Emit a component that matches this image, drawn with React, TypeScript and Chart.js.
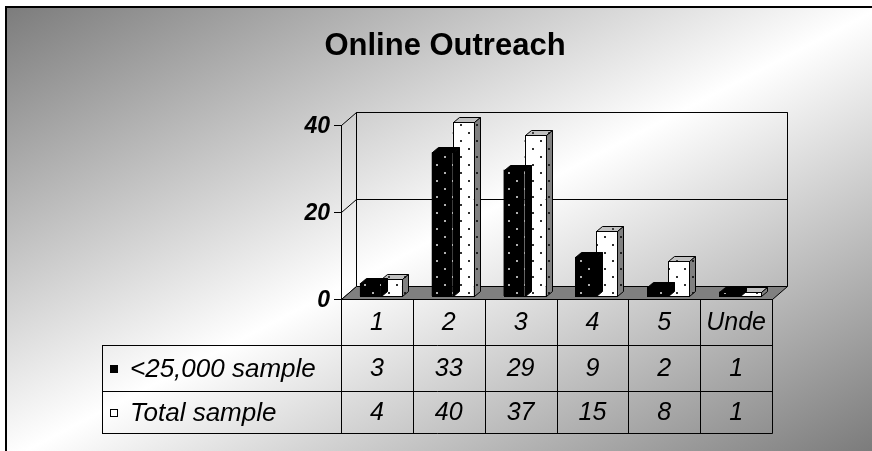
import React, { useEffect, useRef } from "react";
import { Chart, registerables } from "chart.js";

Chart.register(...registerables);

// Survey data
const categories = ["1", "2", "3", "4", "5", "Unde"];
const under25kSample = [3, 33, 29, 9, 2, 1];
const totalSample = [4, 40, 37, 15, 8, 1];
const seriesNames = ["<25,000 sample", "Total sample"];
const yTickValues = [0, 20, 40];
const chartTitle = "Online Outreach";

const FONT = '"Liberation Sans", Arial, sans-serif';
const W = 872;
const H = 451;

// Offsets of the front plane and the back wall relative to the bar plane
const FRONT = { dx: -4, dy: 3 };
const BACK = { dx: 11, dy: -10 };
// Depth of a single column
const BAR_DEPTH = { dx: 6, dy: 5 };
// Data table row heights below the floor edge
const ROW_H = [46, 46, 42];
const TABLE_LEFT = 102;

function dotPattern(ctx: CanvasRenderingContext2D, bg: string, dot: string) {
  const c = document.createElement("canvas");
  c.width = 16;
  c.height = 16;
  const g = c.getContext("2d")!;
  g.fillStyle = bg;
  g.fillRect(0, 0, 16, 16);
  g.fillStyle = dot;
  g.fillRect(4, 4, 2, 2);
  g.fillRect(12, 12, 2, 2);
  return ctx.createPattern(c, "repeat")!;
}

export default function App() {
  const ref = useRef<HTMLCanvasElement | null>(null);

  useEffect(() => {
    const canvas = ref.current!;
    const ctx0 = canvas.getContext("2d")!;
    const patterns = {
      blackFront: dotPattern(ctx0, "#000000", "#b0b0b0"),
      whiteFront: dotPattern(ctx0, "#ffffff", "#303030"),
      whiteSide: dotPattern(ctx0, "#808080", "#202020"),
      whiteTop: dotPattern(ctx0, "#c0c0c0", "#404040"),
    };
    const faceStyles = [
      { front: patterns.blackFront, top: "#000000", side: "#000000", edge: "#000000" },
      { front: patterns.whiteFront, top: patterns.whiteTop, side: patterns.whiteSide, edge: "#000000" },
    ];

    const deco = {
      id: "deco3d",
      beforeDraw(chart: any) {
        const ctx: CanvasRenderingContext2D = chart.ctx;
        ctx.save();
        ctx.fillStyle = "#ffffff";
        ctx.fillRect(0, 0, W, H);
        // diagonal gradient: dark corners, light band across the anti-diagonal
        const x0 = 6, y0 = 7, x1 = W + 10, y1 = H + 10;
        const cw = x1 - x0, ch = y1 - y0;
        const cx = (x0 + x1) / 2, cy = (y0 + y1) / 2;
        const len = Math.sqrt(cw * cw + ch * ch);
        const ux = ch / len, uy = cw / len;
        const r = (cw * ch) / len;
        const grad = ctx.createLinearGradient(cx - ux * r, cy - uy * r, cx + ux * r, cy + uy * r);
        grad.addColorStop(0, "#7c7c7c");
        grad.addColorStop(0.5, "#ffffff");
        grad.addColorStop(1, "#777777");
        ctx.fillStyle = grad;
        ctx.fillRect(x0, y0, W - x0, H - y0);
        // frame edges (the frame continues past the canvas on the right and bottom)
        ctx.fillStyle = "#000000";
        ctx.fillRect(x0 - 1, y0 - 1, W - x0 + 1, 2);
        ctx.fillRect(x0 - 1, y0 - 1, 2, H - y0 + 1);
        ctx.restore();
      },
      beforeDatasetsDraw(chart: any) {
        const ctx: CanvasRenderingContext2D = chart.ctx;
        const ys = chart.scales.y;
        const area = chart.chartArea;
        const L = area.left, R = area.right;
        const yMin = ys.getPixelForValue(ys.min);
        const yMax = ys.getPixelForValue(ys.max);
        ctx.save();
        ctx.strokeStyle = "#000000";
        ctx.lineWidth = 1;
        // back wall outline
        ctx.beginPath();
        ctx.moveTo(L + BACK.dx + 0.5, yMin + BACK.dy);
        ctx.lineTo(L + BACK.dx + 0.5, yMax + BACK.dy + 0.5);
        ctx.lineTo(R + BACK.dx + 0.5, yMax + BACK.dy + 0.5);
        ctx.lineTo(R + BACK.dx + 0.5, yMin + BACK.dy);
        ctx.stroke();
        // front value axis
        ctx.beginPath();
        ctx.moveTo(L + FRONT.dx + 0.5, yMax + FRONT.dy);
        ctx.lineTo(L + FRONT.dx + 0.5, yMin + FRONT.dy);
        ctx.stroke();
        // gridlines across side and back walls, plus ticks
        for (const v of yTickValues) {
          const py = ys.getPixelForValue(v);
          const fy = Math.round(py + FRONT.dy) + 0.5;
          const by = Math.round(py + BACK.dy) + 0.5;
          ctx.beginPath();
          ctx.moveTo(L + FRONT.dx - 7, fy);
          ctx.lineTo(L + FRONT.dx + 0.5, fy);
          ctx.lineTo(L + BACK.dx + 0.5, by);
          ctx.lineTo(R + BACK.dx + 0.5, by);
          ctx.stroke();
        }
        // floor
        ctx.beginPath();
        ctx.moveTo(L + FRONT.dx + 0.5, yMin + FRONT.dy + 0.5);
        ctx.lineTo(R + FRONT.dx + 0.5, yMin + FRONT.dy + 0.5);
        ctx.lineTo(R + BACK.dx + 0.5, yMin + BACK.dy + 0.5);
        ctx.lineTo(L + BACK.dx + 0.5, yMin + BACK.dy + 0.5);
        ctx.closePath();
        ctx.fillStyle = "#808080";
        ctx.fill();
        ctx.stroke();
        // value labels
        ctx.fillStyle = "#000000";
        ctx.font = `italic bold 23px ${FONT}`;
        ctx.textAlign = "right";
        ctx.textBaseline = "alphabetic";
        for (const v of yTickValues) {
          const fy = ys.getPixelForValue(v) + FRONT.dy;
          ctx.fillText(String(v), L + FRONT.dx - 11, fy + 8);
        }
        ctx.restore();
      },
      afterDatasetDraw(chart: any, args: any) {
        const ctx: CanvasRenderingContext2D = chart.ctx;
        const meta = chart.getDatasetMeta(args.index);
        const st = faceStyles[args.index];
        ctx.save();
        ctx.strokeStyle = st.edge;
        ctx.lineWidth = 1;
        ctx.lineJoin = "miter";
        for (const el of meta.data) {
          const { x, y, base, width } = el.getProps(["x", "y", "base", "width"], true);
          const l = Math.round(x - width / 2) + 0.5;
          const r = Math.round(x + width / 2) + 0.5;
          const t = Math.round(y) + 0.5;
          const b = Math.round(base) + 0.5;
          const { dx, dy } = BAR_DEPTH;
          // top face
          ctx.beginPath();
          ctx.moveTo(l, t);
          ctx.lineTo(r, t);
          ctx.lineTo(r + dx, t - dy);
          ctx.lineTo(l + dx, t - dy);
          ctx.closePath();
          ctx.fillStyle = st.top;
          ctx.fill();
          ctx.stroke();
          // side face
          ctx.beginPath();
          ctx.moveTo(r, t);
          ctx.lineTo(r + dx, t - dy);
          ctx.lineTo(r + dx, b - dy);
          ctx.lineTo(r, b);
          ctx.closePath();
          ctx.fillStyle = st.side;
          ctx.fill();
          ctx.stroke();
          // front outline
          ctx.strokeRect(l, t, r - l, b - t);
        }
        ctx.restore();
      },
      afterDraw(chart: any) {
        const ctx: CanvasRenderingContext2D = chart.ctx;
        const xs = chart.scales.x;
        const ys = chart.scales.y;
        const area = chart.chartArea;
        const colW = xs.getPixelForValue(1) - xs.getPixelForValue(0);
        const top = Math.round(ys.getPixelForValue(0) + FRONT.dy);
        const rowEdges = [top];
        for (const h of ROW_H) rowEdges.push(rowEdges[rowEdges.length - 1] + h);
        const right = area.right + FRONT.dx;
        ctx.save();
        ctx.strokeStyle = "#000000";
        ctx.lineWidth = 1;
        // title
        ctx.fillStyle = "#000000";
        ctx.font = `bold 31px ${FONT}`;
        ctx.textAlign = "center";
        ctx.textBaseline = "alphabetic";
        ctx.fillText(chartTitle, 445, 55);
        // table grid
        ctx.beginPath();
        for (let i = 1; i < rowEdges.length; i++) {
          ctx.moveTo(TABLE_LEFT, rowEdges[i] + 0.5);
          ctx.lineTo(right + 0.5, rowEdges[i] + 0.5);
        }
        ctx.moveTo(TABLE_LEFT + 0.5, rowEdges[1]);
        ctx.lineTo(TABLE_LEFT + 0.5, rowEdges[3] + 0.5);
        for (let i = 0; i <= categories.length; i++) {
          const bx = Math.round(xs.getPixelForValue(0) - colW / 2 + i * colW + FRONT.dx) + 0.5;
          ctx.moveTo(bx, top);
          ctx.lineTo(bx, rowEdges[3] + 0.5);
        }
        ctx.stroke();
        // category labels and values
        ctx.font = `italic 25px ${FONT}`;
        ctx.textAlign = "center";
        const rows = [categories, under25kSample.map(String), totalSample.map(String)];
        rows.forEach((row, ri) => {
          const cy = (rowEdges[ri] + rowEdges[ri + 1]) / 2;
          row.forEach((txt, ci) => {
            const cx = xs.getPixelForValue(ci) + FRONT.dx;
            ctx.fillText(txt, cx, cy + 8);
          });
        });
        // series names with legend keys
        ctx.textAlign = "left";
        ctx.font = `italic 26px ${FONT}`;
        const keyFills = [patterns.blackFront, patterns.whiteFront];
        seriesNames.forEach((name, si) => {
          const cy = (rowEdges[si + 1] + rowEdges[si + 2]) / 2;
          ctx.fillStyle = keyFills[si];
          ctx.fillRect(110, Math.round(cy) - 3, 8, 8);
          ctx.strokeRect(110.5, Math.round(cy) - 2.5, 7, 7);
          ctx.fillStyle = "#000000";
          ctx.fillText(name, 130, cy + 9);
        });
        ctx.restore();
      },
    };

    const chart = new Chart(canvas, {
      type: "bar",
      data: {
        labels: categories,
        datasets: [
          {
            label: seriesNames[0],
            data: under25kSample,
            backgroundColor: patterns.blackFront,
            borderWidth: 0,
            categoryPercentage: 0.585,
            barPercentage: 1,
          },
          {
            label: seriesNames[1],
            data: totalSample,
            backgroundColor: patterns.whiteFront,
            borderWidth: 0,
            categoryPercentage: 0.585,
            barPercentage: 1,
          },
        ],
      },
      options: {
        responsive: false,
        animation: false,
        layout: { padding: { left: 345, right: W - 776, top: 122, bottom: H - 296 } },
        scales: {
          x: { display: false, grid: { display: false } },
          y: { display: false, min: 0, max: 40, grid: { display: false } },
        },
        plugins: {
          legend: { display: false },
          title: { display: false },
          tooltip: { enabled: false },
        },
      },
      plugins: [deco],
    });
    return () => chart.destroy();
  }, []);

  return (
    <div style={{ position: "fixed", left: 0, top: 0, width: W, height: H }}>
      <canvas ref={ref} width={W} height={H} style={{ display: "block", width: W, height: H }} />
    </div>
  );
}
